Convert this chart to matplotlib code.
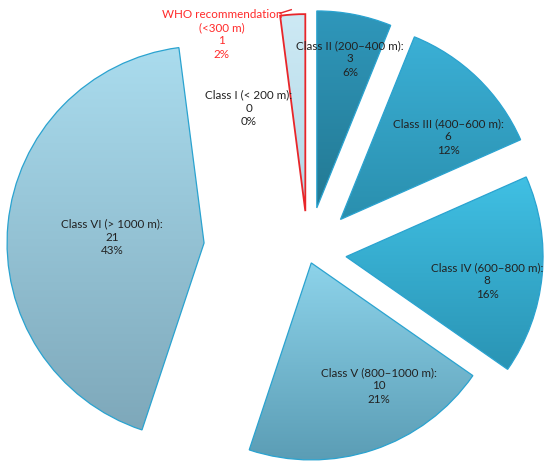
import numpy as np
import matplotlib.pyplot as plt
from matplotlib.colors import LinearSegmentedColormap

# Distance classes (clockwise from 12 o'clock)
classes = ['Class II (200–400 m):', 'Class III (400–600 m):', 'Class IV (600–800 m):',
           'Class V (800–1000 m):', 'Class VI (> 1000 m):', 'Class I (< 200 m):',
           'WHO recommendation\n(<300 m)']
counts = [3, 6, 8, 10, 21, 0, 1]
pct_labels = ['6%', '12%', '16%', '21%', '43%', '0%', '2%']

# Styling
explode = [0.233, 0.237, 0.194, 0.053, 0.53, 0.0, 0.213]
top_colors = ['#2f97bb', '#3bb0d6', '#40c0e4', '#8dd3ea', '#aadcee', '#cde9f4', '#cde9f4']
bottom_colors = ['#237993', '#2a8fae', '#2a94b4', '#5b9db5', '#7ea8ba', '#b2d9e8', '#b2d9e8']
edge_colors = ['#2aa3d0'] * 6 + ['#e8262a']
label_xy = [(0.213, 0.985), (0.711, 0.589), (0.909, -0.142), (0.36, -0.675),
            (-0.995, 0.081), (-0.30, 0.736), (-0.437, 1.11)]
text_colors = ['#222222'] * 6 + ['#ff2a2a']

plt.rcParams['font.family'] = ['Lato', 'DejaVu Sans']

fig = plt.figure(figsize=(5.5, 4.68), dpi=100)
ax = fig.add_axes([0, 0, 1, 1])

wedges, _ = ax.pie(counts, explode=explode, startangle=90, counterclock=False,
                   radius=1, wedgeprops=dict(linewidth=0.9))

# Vertical gradient fill clipped to each wedge
grad = np.linspace(0, 1, 256).reshape(-1, 1)
for w, c_top, c_bot, ec in zip(wedges, top_colors, bottom_colors, edge_colors):
    if w.theta2 - w.theta1 < 1e-6:
        w.set_visible(False)
        continue
    ext = w.get_path().get_extents()
    cmap = LinearSegmentedColormap.from_list('g', [c_bot, c_top])
    im = ax.imshow(grad, extent=[ext.x0, ext.x1, ext.y0, ext.y1], origin='lower',
                   cmap=cmap, aspect='auto', zorder=1)
    im.set_clip_path(w)
    w.set_facecolor('none')
    w.set_edgecolor(ec)
    w.set_zorder(2)
wedges[-1].set_linewidth(1.3)

for cls, n, p, (x, y), tc in zip(classes, counts, pct_labels, label_xy, text_colors):
    ax.text(x, y, f"{cls}\n{n}\n{p}", ha='center', va='center', fontsize=8.4,
            color=tc, linespacing=1.25, zorder=5)

# Small red leader line from the WHO label to its slice
ax.plot([-0.142, -0.085], [1.217, 1.235], color='#e8262a', lw=1, zorder=5)

ax.set_xlim(-308 / 197, (550 - 308) / 197)
ax.set_ylim(-(468 - 253) / 197, 253 / 197)
ax.set_aspect('equal')
ax.axis('off')

plt.savefig('out.png', dpi=100)
